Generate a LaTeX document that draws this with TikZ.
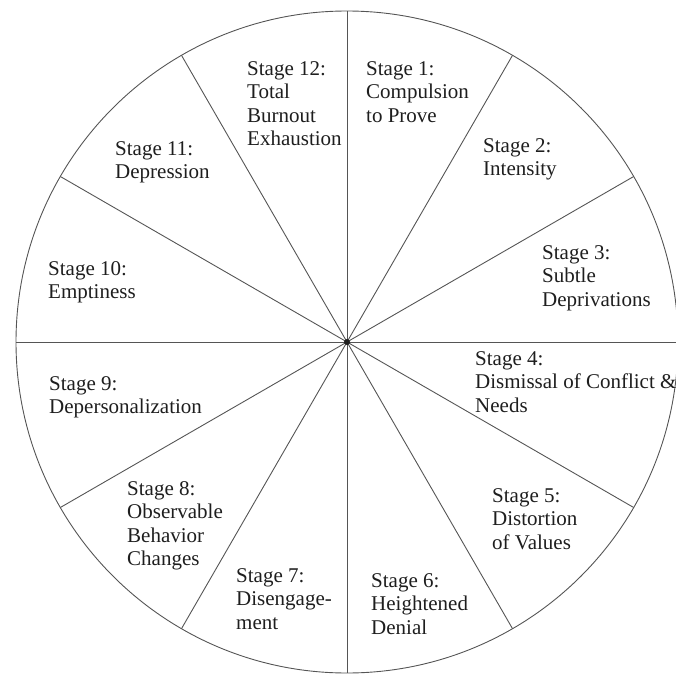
\documentclass[tikz,border=0pt]{standalone}
\usepackage{fontspec}
\setmainfont{Liberation Serif}
\definecolor{Ink}{HTML}{1E1E1E}
\definecolor{Rule}{HTML}{555555}
\tikzset{
  stagelabel/.style={
    anchor=north west, inner sep=0pt, align=left, text=Ink,
    font=\fontsize{21}{23.5}\selectfont
  },
  spoke/.style={draw=Rule, line width=0.9pt},
  rim/.style={draw=Rule, line width=0.9pt}
}
\begin{document}
\begin{tikzpicture}[x=1pt,y=-1pt]
    \useasboundingbox (0,0) rectangle (675,676);
    \coordinate (hub) at (347,342);
    \draw[rim] (hub) circle[radius=331];
    \foreach \a in {0,30,...,330}
      \draw[spoke] (hub) -- ++(\a:331);
    \fill[Ink] (hub) circle[radius=3];
    % labels, clockwise from the top
    \node[stagelabel] (s1) at (366,61) {Stage 1:\\Compulsion\\to Prove};
    \node[stagelabel] (s2) at (483,138) {Stage 2:\\Intensity};
    \node[stagelabel] (s3) at (542,245) {Stage 3:\\Subtle\\Deprivations};
    \node[stagelabel] (s4) at (475,351) {Stage 4:\\Dismissal of Conflict \&\\Needs};
    \node[stagelabel] (s5) at (492,488) {Stage 5:\\Distortion\\of Values};
    \node[stagelabel] (s6) at (371,573) {Stage 6:\\Heightened\\Denial};
    \node[stagelabel] (s7) at (236,568) {Stage 7:\\Disengage-\\ment};
    \node[stagelabel] (s8) at (127,481) {Stage 8:\\Observable\\Behavior\\Changes};
    \node[stagelabel] (s9) at (49,376) {Stage 9:\\Depersonalization};
    \node[stagelabel] (s10) at (48,261) {Stage 10:\\Emptiness};
    \node[stagelabel] (s11) at (115,141) {Stage 11:\\Depression};
    \node[stagelabel] (s12) at (247,61) {Stage 12:\\Total\\Burnout\\Exhaustion};
\end{tikzpicture}
\end{document}
